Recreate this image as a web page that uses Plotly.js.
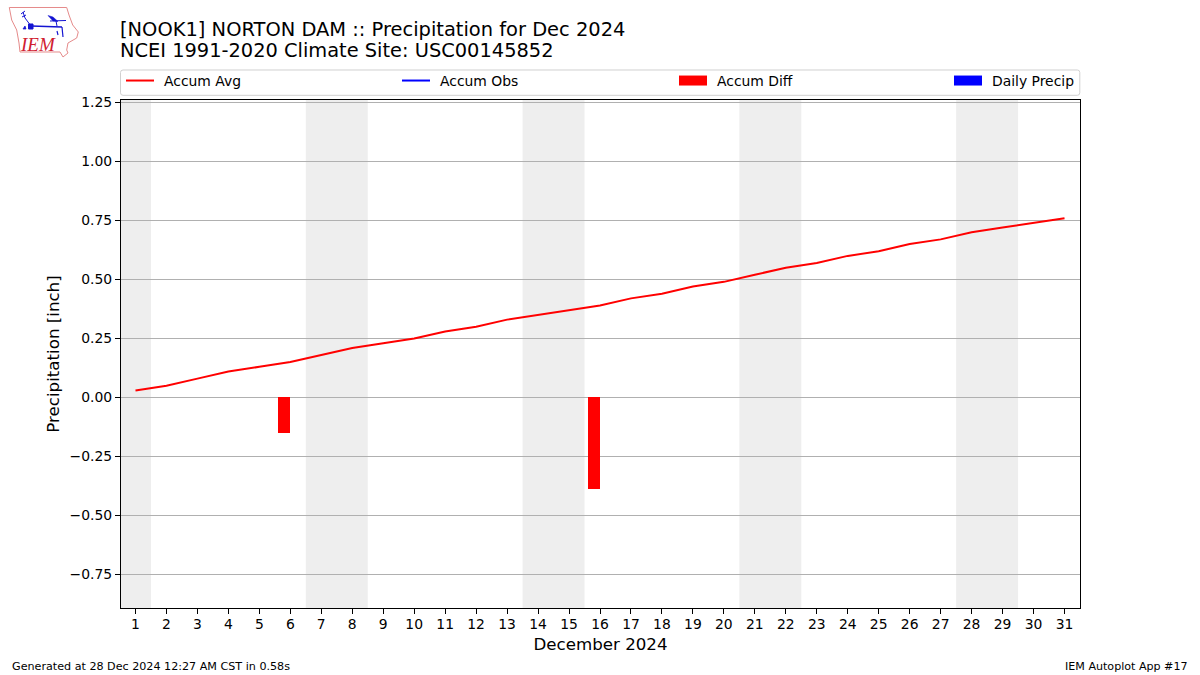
<!DOCTYPE html>
<html><head><meta charset="utf-8">
<script src="https://cdn.plot.ly/plotly-3.0.1.min.js"></script>
<style>html,body{margin:0;padding:0;background:#fff}</style>
</head><body><div id="chart" style="width:1200px;height:675px"></div>
<script>
const days = [1,2,3,4,5,6,7,8,9,10,11,12,13,14,15,16,17,18,19,20,21,22,23,24,25,26,27,28,29,30,31];
const accumAvg = [0.03,0.05,0.08,0.11,0.13,0.15,0.18,0.21,0.23,0.25,0.28,0.30,0.33,0.35,0.37,0.39,0.42,0.44,0.47,0.49,0.52,0.55,0.57,0.60,0.62,0.65,0.67,0.70,0.72,0.74,0.76];
const diffDays = [6,16];
const accumDiff = [-0.15,-0.388];
const weekendStart = [0.5,6.5,13.5,20.5,27.5];
const weekendEnd = [1.5,8.5,15.5,22.5,29.5];
const yTicks = [-0.75,-0.5,-0.25,0,0.25,0.5,0.75,1,1.25];

const W=1200,H=675,L=121,R=1080,T=100,B=608;
const px=x=>(x-L)/(R-L), py=y=>(B-y)/(B-T);
const font="'DejaVu Sans', sans-serif";
const P=p=>px(p[0]).toFixed(5)+','+py(p[1]).toFixed(5);
const pth=(pts,close)=>'M'+pts.map(P).join(' L')+(close?' Z':'');

const iowa=[[9.3,7.5],[66.7,7.5],[69,15],[72.7,25],[78.3,32],[76.7,38],[68,43],[66.7,50],[68,53],[63,57],[60,52],[20,52],[19,43],[16.7,30],[11.7,20]];
const blue='#1414d2';
const logoShapes=[
 {type:'path',path:pth(iowa,true),line:{color:'#e58a8a',width:1},fillcolor:'rgba(0,0,0,0)'},
 {type:'path',path:pth([[31,26],[62,27]]),line:{color:blue,width:1.6}},
 {type:'path',path:pth([[31,26],[25,18],[23,12]]),line:{color:blue,width:1}},
 {type:'path',path:pth([[21,14],[25,11]]),line:{color:blue,width:1}},
 {type:'path',path:pth([[22,17],[26,15]]),line:{color:blue,width:1}},
 {type:'path',path:pth([[62,27],[63,37]]),line:{color:blue,width:1.2}},
 {type:'path',path:pth([[57,31],[58,35]]),line:{color:blue,width:1.2}},
 {type:'path',path:pth([[48,15.5],[53,17],[58,21.5],[53,21]],true),line:{color:blue,width:0.5},fillcolor:blue},
 {type:'path',path:pth([[50,21],[66,20.5]]),line:{color:blue,width:1}},
 {type:'path',path:pth([[56,21],[57,26]]),line:{color:blue,width:1}},
 {type:'path',path:pth([[28.5,24],[33,24],[33,29],[28.5,29]],true),line:{color:blue,width:1},fillcolor:blue},
 {type:'path',path:pth([[23,29],[25,26],[26,29]],true),line:{color:blue,width:0.7},fillcolor:blue}
];
const spanShapes=weekendStart.map((s,i)=>({type:'rect',layer:'below',xref:'x',yref:'paper',x0:s,x1:weekendEnd[i],y0:0,y1:1,fillcolor:'#eeeeee',line:{width:0}}));
const r=2.5,bl=120.5,br=1079.8,bt=70,bb=95.3;
const legendBox={type:'path',xref:'paper',yref:'paper',
 path:`M${P([bl+r,bt])} L${P([br-r,bt])} Q${P([br,bt])} ${P([br,bt+r])} L${P([br,bb-r])} Q${P([br,bb])} ${P([br-r,bb])} L${P([bl+r,bb])} Q${P([bl,bb])} ${P([bl,bb-r])} L${P([bl,bt+r])} Q${P([bl,bt])} ${P([bl+r,bt])} Z`,
 line:{color:'#d0d0d0',width:1},fillcolor:'rgba(0,0,0,0)'};

const none=days.map(()=>null);
const swatchDash='28px,100px';
const traces=[
 {type:'scatter',mode:'lines',name:'Accum Avg',x:days,y:accumAvg,line:{color:'#ff0000',width:2},showlegend:false},
 {type:'bar',name:'Accum Diff',x:diffDays,y:accumDiff,width:0.4,offset:-0.4,marker:{color:'#ff0000',line:{width:0}},showlegend:false},
 {type:'scatter',mode:'lines',name:'Accum Avg',x:days,y:none,line:{color:'#ff0000',width:2,dash:swatchDash},legend:'legend'},
 {type:'scatter',mode:'lines',name:'Accum Obs',x:days,y:none,line:{color:'#0000ff',width:2,dash:swatchDash},legend:'legend2'},
 {type:'scatter',mode:'lines',name:'Accum Diff',x:days,y:none,line:{color:'#ff0000',width:10,dash:swatchDash},legend:'legend3'},
 {type:'scatter',mode:'lines',name:'Daily Precip',x:days,y:none,line:{color:'#0000ff',width:10,dash:swatchDash},legend:'legend4'}
];
const lg=x=>({orientation:'h',x:px(x),xanchor:'left',y:py(65),yanchor:'top',itemwidth:33,itemsizing:'trace',bgcolor:'rgba(0,0,0,0)',borderwidth:0,font:{family:font,size:13.9},itemclick:false,itemdoubleclick:false});
const layout={
 width:W,height:H,paper_bgcolor:'#fff',plot_bgcolor:'#fff',font:{family:font,size:13.9,color:'#000'},
 margin:{l:L,r:W-R,t:T,b:H-B,pad:0},
 title:{text:'[NOOK1] NORTON DAM :: Precipitation for Dec 2024',font:{family:font,size:19.44,color:'#000'},xref:'container',x:120/W,xanchor:'left',yref:'container',y:1-29/H,yanchor:'middle',pad:{t:0,l:0,r:0,b:0}},
 xaxis:{range:[0.5+1/30.97,31.5],tickmode:'array',tickvals:days,ticktext:days.map(String),ticks:'outside',ticklen:5,tickwidth:1.1,tickcolor:'#000',showgrid:false,zeroline:false,showline:true,linecolor:'#000',linewidth:1.1,mirror:true,ticklabelstandoff:-2,title:{text:'December 2024',font:{family:font,size:16.67},standoff:7},automargin:false},
 yaxis:{range:[-0.892,1.2606],tickmode:'array',tickvals:yTicks,ticktext:yTicks.map(v=>(v<0?'\u2212':'')+Math.abs(v).toFixed(2)),ticks:'outside',ticklen:5,tickwidth:1.1,tickcolor:'#000',showgrid:true,gridcolor:'#b0b0b0',gridwidth:1.1,zeroline:false,showline:true,linecolor:'#000',linewidth:1.1,mirror:true,title:{text:'Precipitation [inch]',font:{family:font,size:16.67},standoff:5},automargin:false},
 bargap:0,showlegend:true,
 legend:lg(121),legend2:lg(397),legend3:lg(674),legend4:lg(949),
 shapes:[...spanShapes,legendBox,...logoShapes.map(s=>({...s,xref:'paper',yref:'paper'}))],
 annotations:[
  {text:'NCEI 1991-2020 Climate Site: USC00145852',xref:'paper',yref:'paper',x:px(118),y:py(50.5),xanchor:'left',yanchor:'middle',showarrow:false,font:{family:font,size:19.4}},
  {text:'Generated at 28 Dec 2024 12:27 AM CST in 0.58s',xref:'paper',yref:'paper',x:px(10),y:py(666.8),xanchor:'left',yanchor:'middle',showarrow:false,font:{family:font,size:11.15}},
  {text:'IEM Autoplot App #17',xref:'paper',yref:'paper',x:px(1190),y:py(666.8),xanchor:'right',yanchor:'middle',showarrow:false,font:{family:font,size:11.1}},
  {text:'<i>IEM</i>',xref:'paper',yref:'paper',x:px(37.5),y:py(45),xanchor:'center',yanchor:'middle',showarrow:false,font:{family:"'Liberation Serif', serif",size:19,color:'#d02030'}}
 ]
};
Plotly.newPlot('chart',traces,layout,{displayModeBar:false});
</script></body></html>
